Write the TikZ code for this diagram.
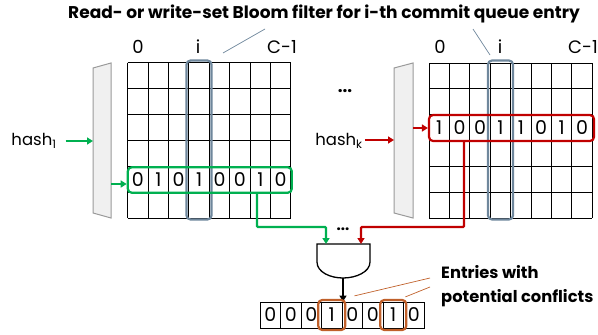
\documentclass[tikz,border=0pt]{standalone}
\usepackage{fontspec}
\setmainfont{Poppins}
\usetikzlibrary{arrows.meta}
\definecolor{cgreen}{HTML}{00B050}
\definecolor{cred}{HTML}{C00000}
\definecolor{cblue}{HTML}{6F879C}
\definecolor{corange}{HTML}{C0602A}
\definecolor{tfill}{HTML}{F0F0F0}
\definecolor{tdraw}{HTML}{9A9A9A}
\tikzset{
  gridl/.style={black, line width=0.9pt},
  digit/.style={font=\fontsize{19}{19}\selectfont, inner sep=0pt},
  collab/.style={font=\fontsize{18}{18}\selectfont, inner sep=0pt},
  hashlab/.style={font=\fontsize{16.5}{16.5}\selectfont, inner sep=0pt},
  boldlab/.style={font=\fontsize{17}{17}\selectfont\bfseries, inner sep=0pt},
  sidelab/.style={font=\fontsize{16.3}{16.3}\selectfont\bfseries, inner sep=0pt},
  hl/.style={draw, rounded corners=4pt, line width=2.2pt, inner sep=0pt},
  trap/.style={fill=tfill, draw=tdraw, line width=1pt},
  garrow/.style={cgreen, line width=2.2pt, -{Triangle[length=6pt,width=7pt]}},
  rarrow/.style={cred, line width=2.2pt, -{Triangle[length=6pt,width=7pt]}},
  barrow/.style={black, line width=1.5pt, -{Triangle[length=6pt,width=7pt]}},
  pointer/.style={cblue, line width=0.7pt},
  opointer/.style={corange, line width=0.7pt},
}
\begin{document}
\begin{tikzpicture}[x=1pt,y=-1pt]
\useasboundingbox (0,0) rectangle (598,335);
% title
\node[boldlab] (title) at (324,14) {Read- or write-set Bloom filter for i-th commit queue entry};
% ---------- left grid ----------
\foreach \c in {0,...,8} \draw[gridl] (127.7+\c*20.4,62.7) -- ++(0,155.4);
\foreach \r in {0,...,6} \draw[gridl] (127.7,62.7+\r*25.9) -- ++(163.2,0);
\node[collab] (l0) at (138,47) {0};
\node[collab] (li) at (198,47) {i};
\node[collab] (lc) at (282,47) {C-1};
\foreach \d [count=\k from 0] in {0,1,0,1,0,0,1,0}
  \node[digit] (L\k) at (127.7+\k*20.4+10.2,180) {\d};
\node[hl, draw=cblue, minimum width=25pt, minimum height=159pt] (lcol) at (199,140) {};
\node[hl, draw=cgreen, minimum width=164pt, minimum height=25.5pt] (grow) at (209.8,180) {};
\draw[trap] (93,68) -- (111,63) -- (111,218) -- (93,213) -- cycle;
\coordinate (lt1) at (93,141);
\coordinate (lt2) at (111,184);
\node[hashlab] (h1) at (34,141) {hash\textsubscript{1}};
\draw[garrow] (h1.east) ++(9,0) coordinate (h1s) -- (lt1);
\draw[garrow] (lt2) -- (grow.west |- lt2);
% ---------- right grid ----------
\foreach \c in {0,...,8} \draw[gridl] (429+\c*20.4,63) -- ++(0,155.4);
\foreach \r in {0,...,6} \draw[gridl] (429,63+\r*25.9) -- ++(163.2,0);
\node[collab] (r0) at (440,47) {0};
\node[collab] (ri) at (500,47) {i};
\node[collab] (rc) at (583,47) {C-1};
\foreach \d [count=\k from 0] in {1,0,0,1,1,0,1,0}
  \node[digit] (R\k) at (429+\k*20.4+10.2,128) {\d};
\node[hl, draw=cblue, minimum width=25pt, minimum height=159pt] (rcol) at (500.5,140) {};
\node[hl, draw=cred, minimum width=165pt, minimum height=26pt] (rrow) at (511.5,128) {};
\draw[trap] (394,68) -- (413,63) -- (413,218) -- (394,213) -- cycle;
\coordinate (rt1) at (394,140);
\coordinate (rt2) at (413,128);
\node[hashlab] (hk) at (339,141) {hash\textsubscript{k}};
\draw[rarrow] (hk.east) ++(2,-1) -- (rt1);
\draw[rarrow] (rt2) -- (rrow.west |- rt2);
\node[font=\fontsize{17}{17}\selectfont] (tdots) at (345,91) {\textbf{...}};
% pointers from title
\coordinate (p1a) at (265,29); \coordinate (p1b) at (223,53);
\coordinate (p2a) at (473,29); \coordinate (p2b) at (490,55);
\draw[pointer] (p1a) -- (p1b);
\draw[pointer] (p2a) -- (p2b);
% ---------- AND gate ----------
\draw[black, line width=1.3pt, fill=white] (317,244) -- (370,244) -- (370,262)
  .. controls (370,272) and (356,278) .. (343,278) coordinate (gout)
  .. controls (330,278) and (317,272) .. (317,262) -- cycle;
\coordinate (gin1) at (326,244);
\coordinate (gin2) at (361,244);
\coordinate (gy) at (0,227);
\coordinate (gx) at (257,0);
\coordinate (rx) at (464,0);
\draw[garrow, rounded corners=1pt] (grow.south -| gx) -- (gx |- gy) -| (gin1);
\draw[rarrow, rounded corners=1pt] (rrow.south -| rx) -- (rx |- gy) -| (gin2);
\node[font=\fontsize{15}{15}\selectfont] (bdots) at (343,229) {\textbf{...}};
% ---------- result ----------
\foreach \d [count=\k from 0] in {0,0,0,1,0,0,1,0}
  \node[draw, line width=0.9pt, minimum width=20.5pt, minimum height=26pt, inner sep=0pt,
        font=\fontsize{19}{19}\selectfont] (S\k) at (270.25+\k*20.5,315) {\d};
\draw[barrow] (gout) -- (S3.north -| gout);
\node[hl, draw=corange, minimum width=27pt, minimum height=30pt] (o1) at (S3) {};
\node[hl, draw=corange, minimum width=26pt, minimum height=30pt] (o2) at (S6) {};
\node[sidelab, anchor=west] (e1) at (441,272) {Entries with};
\node[sidelab, anchor=west] (e2) at (441,298) {potential conflicts};
\coordinate (oa) at (430,278); \coordinate (ob) at (430,287);
\draw[opointer] (o1.north east) ++(8,-3) -- (oa);
\draw[opointer] (o2.north east) ++(-2,-2) -- (ob);
\end{tikzpicture}
\end{document}
